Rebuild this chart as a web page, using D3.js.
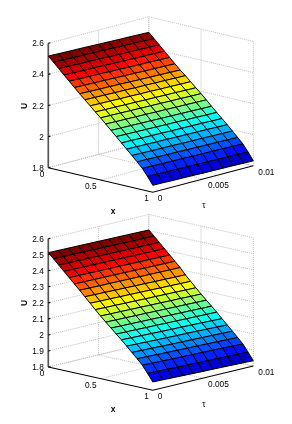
<!DOCTYPE html>
<html>
<head>
    <title>Surface plots</title>
    <style>
        html, body { margin: 0; padding: 0; background: #fff; }
        text { font-family: "Liberation Sans", sans-serif; font-size: 8.3px; fill: #000; }
        .label { font-weight: bold; font-size: 8.5px; }
        .grid { stroke: #bdbdbd; stroke-width: 1; stroke-dasharray: 1,1; fill: none; }
        .axis { stroke: #000; stroke-width: 1.1; fill: none; }
        .zaxis { stroke: #555; stroke-width: 1.7; fill: none; }
        .cell { stroke: #000; stroke-width: 1; stroke-linejoin: round; }
    </style>
</head>
<body>
<div id="chart"></div>

<script src="https://d3js.org/d3.v7.min.js"></script>
<script>
    const xValues = [0, 0.05, 0.1, 0.15, 0.2, 0.25, 0.3, 0.35, 0.4, 0.45, 0.5, 0.55, 0.6, 0.65, 0.7, 0.75, 0.8, 0.85, 0.9, 0.95, 1];
    const tauValues = [0, 0.001, 0.002, 0.003, 0.004, 0.005, 0.006, 0.007, 0.008, 0.009, 0.01];

    const xTicks = [0, 0.5, 1];
    const tauTicks = [0, 0.005, 0.01];
    const zTicksTop = [1.8, 2, 2.2, 2.4, 2.6];
    const zTicksBottom = [1.8, 1.9, 2, 2.1, 2.2, 2.3, 2.4, 2.5, 2.6];

    // U(x, tau): one row per x, one column per tau
    const uTop = [
        [2.518, 2.516, 2.514, 2.513, 2.511, 2.509, 2.507, 2.505, 2.504, 2.502, 2.500],
        [2.486, 2.484, 2.482, 2.481, 2.479, 2.477, 2.475, 2.473, 2.472, 2.470, 2.468],
        [2.453, 2.451, 2.449, 2.448, 2.446, 2.444, 2.442, 2.440, 2.439, 2.437, 2.435],
        [2.420, 2.418, 2.416, 2.415, 2.413, 2.411, 2.409, 2.407, 2.406, 2.404, 2.402],
        [2.388, 2.386, 2.384, 2.383, 2.381, 2.379, 2.377, 2.375, 2.374, 2.372, 2.370],
        [2.355, 2.353, 2.351, 2.350, 2.348, 2.346, 2.344, 2.342, 2.341, 2.339, 2.337],
        [2.323, 2.321, 2.319, 2.318, 2.316, 2.314, 2.312, 2.310, 2.309, 2.307, 2.305],
        [2.292, 2.290, 2.289, 2.287, 2.286, 2.284, 2.283, 2.281, 2.280, 2.278, 2.277],
        [2.261, 2.259, 2.258, 2.256, 2.255, 2.253, 2.252, 2.250, 2.249, 2.247, 2.246],
        [2.230, 2.228, 2.227, 2.225, 2.224, 2.222, 2.221, 2.219, 2.218, 2.216, 2.215],
        [2.200, 2.198, 2.197, 2.195, 2.194, 2.192, 2.191, 2.189, 2.188, 2.186, 2.185],
        [2.168, 2.166, 2.165, 2.163, 2.162, 2.160, 2.159, 2.157, 2.156, 2.154, 2.153],
        [2.135, 2.133, 2.132, 2.130, 2.129, 2.127, 2.126, 2.124, 2.123, 2.121, 2.120],
        [2.103, 2.101, 2.100, 2.098, 2.097, 2.095, 2.094, 2.092, 2.091, 2.089, 2.088],
        [2.070, 2.069, 2.067, 2.066, 2.065, 2.063, 2.062, 2.061, 2.060, 2.058, 2.057],
        [2.038, 2.037, 2.035, 2.034, 2.033, 2.031, 2.030, 2.029, 2.028, 2.026, 2.025],
        [2.005, 2.004, 2.002, 2.001, 2.000, 1.998, 1.997, 1.996, 1.995, 1.993, 1.992],
        [1.972, 1.971, 1.969, 1.968, 1.967, 1.965, 1.964, 1.963, 1.962, 1.960, 1.959],
        [1.938, 1.937, 1.935, 1.934, 1.933, 1.931, 1.930, 1.929, 1.928, 1.926, 1.925],
        [1.894, 1.893, 1.891, 1.890, 1.889, 1.887, 1.886, 1.885, 1.884, 1.882, 1.881],
        [1.845, 1.844, 1.842, 1.841, 1.840, 1.838, 1.837, 1.836, 1.835, 1.833, 1.832]
    ];

    const uBottom = [
        [2.513, 2.512, 2.511, 2.510, 2.509, 2.508, 2.507, 2.506, 2.505, 2.504, 2.503],
        [2.482, 2.481, 2.480, 2.479, 2.478, 2.477, 2.476, 2.475, 2.474, 2.473, 2.472],
        [2.450, 2.449, 2.448, 2.447, 2.446, 2.445, 2.444, 2.443, 2.442, 2.441, 2.440],
        [2.418, 2.417, 2.416, 2.415, 2.414, 2.413, 2.412, 2.411, 2.410, 2.409, 2.408],
        [2.386, 2.385, 2.384, 2.383, 2.382, 2.381, 2.380, 2.379, 2.378, 2.377, 2.376],
        [2.354, 2.353, 2.352, 2.351, 2.350, 2.349, 2.348, 2.347, 2.346, 2.345, 2.344],
        [2.322, 2.321, 2.320, 2.319, 2.318, 2.317, 2.316, 2.315, 2.314, 2.313, 2.312],
        [2.289, 2.287, 2.286, 2.284, 2.283, 2.281, 2.280, 2.278, 2.277, 2.275, 2.274],
        [2.256, 2.254, 2.253, 2.251, 2.250, 2.248, 2.247, 2.245, 2.244, 2.242, 2.241],
        [2.223, 2.221, 2.220, 2.218, 2.217, 2.215, 2.214, 2.212, 2.211, 2.209, 2.208],
        [2.191, 2.189, 2.188, 2.186, 2.185, 2.183, 2.182, 2.180, 2.179, 2.177, 2.176],
        [2.160, 2.158, 2.157, 2.155, 2.154, 2.152, 2.151, 2.149, 2.148, 2.146, 2.145],
        [2.130, 2.128, 2.127, 2.125, 2.124, 2.122, 2.121, 2.119, 2.118, 2.116, 2.115],
        [2.100, 2.098, 2.097, 2.095, 2.094, 2.092, 2.091, 2.089, 2.088, 2.086, 2.085],
        [2.071, 2.069, 2.067, 2.065, 2.063, 2.061, 2.060, 2.058, 2.056, 2.054, 2.052],
        [2.039, 2.037, 2.035, 2.033, 2.031, 2.029, 2.028, 2.026, 2.024, 2.022, 2.020],
        [2.007, 2.005, 2.003, 2.001, 1.999, 1.997, 1.996, 1.994, 1.992, 1.990, 1.988],
        [1.975, 1.973, 1.971, 1.969, 1.967, 1.965, 1.964, 1.962, 1.960, 1.958, 1.956],
        [1.942, 1.940, 1.938, 1.936, 1.934, 1.932, 1.931, 1.929, 1.927, 1.925, 1.923],
        [1.898, 1.896, 1.894, 1.892, 1.890, 1.888, 1.887, 1.885, 1.883, 1.881, 1.879],
        [1.852, 1.850, 1.848, 1.846, 1.844, 1.842, 1.841, 1.839, 1.837, 1.835, 1.833]
    ];

    const width = 292;
    const height = 424;

    const svg = d3.select('#chart').append('svg')
        .attr('width', width)
        .attr('height', height)
        .style('display', 'block');

    // the reference is a soft, resampled image
    svg.append('filter').attr('id', 'soft')
        .append('feGaussianBlur').attr('stdDeviation', 0.25);

    const root = svg.append('g').attr('filter', 'url(#soft)');

    // jet colormap with 64 steps, as in the original figure
    const jetRamp = d3.scaleLinear()
        .domain([0, 0.11, 0.36, 0.61, 0.86, 1])
        .range(['#000084', '#0000ff', '#00ffff', '#ffff00', '#ff0000', '#800000'])
        .interpolate(d3.interpolateRgb);

    function drawPanel(u, zTicks, p) {
        const g = root.append('g');

        // oblique projection: each data axis moves the point along its own screen vector
        const xToX = d3.scaleLinear().domain([0, 1]).range([0, p.xVec[0]]);
        const xToY = d3.scaleLinear().domain([0, 1]).range([0, p.xVec[1]]);
        const tauToX = d3.scaleLinear().domain([0, 0.01]).range([0, p.tauVec[0]]);
        const tauToY = d3.scaleLinear().domain([0, 0.01]).range([0, p.tauVec[1]]);
        const zToY = d3.scaleLinear().domain([1.8, 2.6]).range([0, -p.zHeight]);

        function project(x, tau, z) {
            return [
                p.origin[0] + xToX(x) + tauToX(tau),
                p.origin[1] + xToY(x) + tauToY(tau) + zToY(z)
            ];
        }

        const line = d3.line();

        function gridLine(points) {
            g.append('path').attr('class', 'grid').attr('d', line(points));
        }

        // walls and floor
        zTicks.forEach(z => {
            gridLine([project(0, 0, z), project(0, 0.01, z), project(1, 0.01, z)]);
        });
        xTicks.slice(0, -1).forEach(x => {
            gridLine([project(x, 0, 1.8), project(x, 0.01, 1.8)]);
        });
        xTicks.slice(1).forEach(x => {
            gridLine([project(x, 0.01, 1.8), project(x, 0.01, 2.6)]);
        });
        gridLine([project(0, 0.01, 1.8), project(0, 0.01, 2.6)]);
        tauTicks.slice(1).forEach(tau => {
            gridLine([project(1, tau, 1.8), project(0, tau, 1.8)]);
            gridLine([project(0, tau, 1.8), project(0, tau, 2.6)]);
        });

        // axes
        g.append('path').attr('class', 'axis')
            .attr('d', line([project(0, 0, 1.8), project(1, 0, 1.8), project(1, 0.01, 1.8)]));
        g.append('path').attr('class', 'zaxis')
            .attr('d', line([project(0, 0, 1.8), project(0, 0, 2.6)]));

        zTicks.forEach(z => {
            const a = project(0, 0, z);
            g.append('path').attr('class', 'axis').attr('d', line([a, [a[0] + 2, a[1] - 0.5]]));
            g.append('text')
                .attr('x', p.origin[0] - 4.5)
                .attr('y', a[1] + 3)
                .attr('text-anchor', 'end')
                .text(z);
        });

        xTicks.forEach(x => {
            const a = project(x, 0, 1.8);
            g.append('text')
                .attr('x', a[0] - 4)
                .attr('y', a[1] + 9)
                .attr('text-anchor', 'end')
                .text(x);
        });

        tauTicks.forEach(tau => {
            const a = project(1, tau, 1.8);
            g.append('text')
                .attr('x', a[0] + 5)
                .attr('y', a[1] + 9)
                .text(tau);
        });

        // surface
        const zValues = u.flat();
        const colorPos = d3.scaleLinear().domain(d3.extent(zValues)).range([0, 1]);
        const cells = [];
        xValues.slice(0, -1).forEach((x, i) => {
            tauValues.slice(0, -1).forEach((tau, j) => {
                cells.push({ i: i, j: j });
            });
        });

        g.selectAll('path.cell')
            .data(cells)
            .enter().append('path')
            .attr('class', 'cell')
            .attr('d', d => line([
                project(xValues[d.i], tauValues[d.j], u[d.i][d.j]),
                project(xValues[d.i + 1], tauValues[d.j], u[d.i + 1][d.j]),
                project(xValues[d.i + 1], tauValues[d.j + 1], u[d.i + 1][d.j + 1]),
                project(xValues[d.i], tauValues[d.j + 1], u[d.i][d.j + 1])
            ]) + 'Z')
            .attr('fill', d => {
                const step = Math.min(63, Math.floor(colorPos(u[d.i][d.j]) * 64));
                return jetRamp(step / 63);
            });

        // axis labels
        g.append('text').attr('class', 'label')
            .attr('transform', `translate(${p.uLabel[0]},${p.uLabel[1]}) rotate(-90)`)
            .attr('text-anchor', 'middle')
            .text('U');
        g.append('text').attr('class', 'label')
            .attr('x', p.xLabel[0]).attr('y', p.xLabel[1])
            .attr('text-anchor', 'middle')
            .text('x');
        g.append('text')
            .attr('x', p.tauLabel[0]).attr('y', p.tauLabel[1])
            .attr('text-anchor', 'middle')
            .text('τ');
    }

    drawPanel(uTop, zTicksTop, {
        origin: [48.3, 167.7],
        xVec: [104.5, 24.6],
        tauVec: [100.5, -26.5],
        zHeight: 124.4,
        uLabel: [27, 106],
        xLabel: [113, 214],
        tauLabel: [204, 208]
    });

    drawPanel(uBottom, zTicksBottom, {
        origin: [48.3, 367],
        xVec: [104.5, 23.3],
        tauVec: [100.5, -24.3],
        zHeight: 128.3,
        uLabel: [27, 303],
        xLabel: [113, 412],
        tauLabel: [204, 407]
    });
</script>
</body>
</html>
